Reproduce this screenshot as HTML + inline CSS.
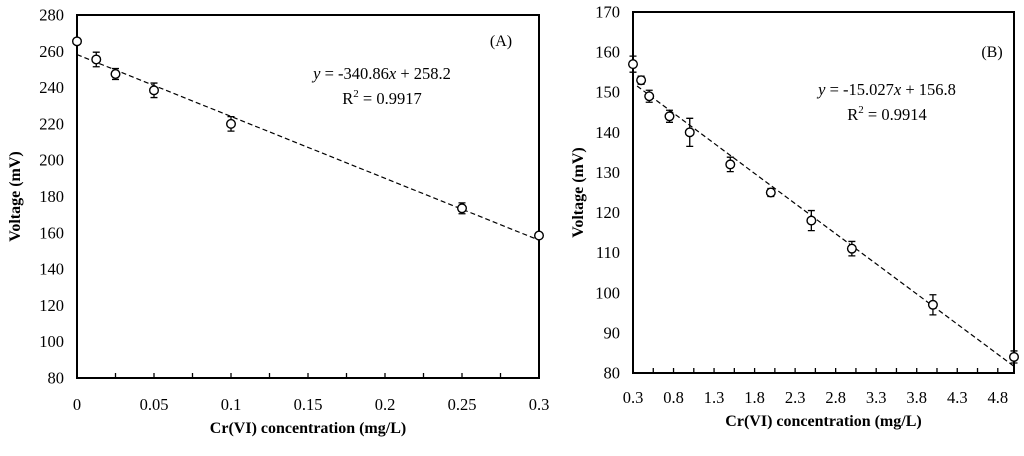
<!DOCTYPE html>
<html><head><meta charset="utf-8"><style>
body{margin:0;background:#fff;width:1024px;height:451px;overflow:hidden}
svg{font-family:"Liberation Serif",serif}
</style></head><body>
<svg id="c" width="1024" height="451"></svg>
<script>
const catsA=[0,0.0125,0.025,0.05,0.1,0.25,0.3];
const valsA=[265.5,255.5,247.5,238.5,220,173.5,158.5];
const errA=[0,4,3,4,4,3,1.5];
const ticksAx=[0,0.05,0.1,0.15,0.2,0.25,0.3];
const tickLabelsAx=["0","0.05","0.1","0.15","0.2","0.25","0.3"];
const ticksAy=[80,100,120,140,160,180,200,220,240,260,280];
const fitA=[-340.86,258.2];

const catsB=[0.3,0.4,0.5,0.75,1.0,1.5,2,2.5,3,4,5];
const valsB=[157,153,149,144,140,132,125,118,111,97,84];
const errB=[2,1,1.5,1.5,3.5,1.8,1,2.5,1.8,2.5,1.5];
const ticksBx=[0.3,0.8,1.3,1.8,2.3,2.8,3.3,3.8,4.3,4.8];
const tickLabelsBx=["0.3","0.8","1.3","1.8","2.3","2.8","3.3","3.8","4.3","4.8"];
const ticksBy=[80,90,100,110,120,130,140,150,160,170];
const fitB=[-15.027,156.8];

const NS="http://www.w3.org/2000/svg";
const svg=document.getElementById('c');
function mk(t,a,p){const e=document.createElementNS(NS,t);for(const k in a)e.setAttribute(k,a[k]);(p||svg).appendChild(e);return e;}

function panel(o){
  const g=mk('g',{});
  
  
  const X=v=>o.L+(v-o.x0)/(o.x1-o.x0)*(o.R-o.L);
  const Y=v=>o.B-(v-o.y0)/(o.y1-o.y0)*(o.B-o.T);
  const box=mk('rect',{x:o.L,y:o.T,width:o.R-o.L,height:o.B-o.T,fill:'none',stroke:'#000','stroke-width':2},g);
  
  
  for(let v=o.x0;v<=o.x1+1e-9;v+=o.minor){
    const t=mk('line',{x1:X(v),x2:X(v),y1:o.B,y2:o.B-5,stroke:'#000','stroke-width':1.3},g);
    
    
  }
  o.xt.forEach((v,i)=>{
    const t=mk('text',{x:X(v),y:o.B+o.xly,'text-anchor':'middle','font-size':16.5},g);
    t.textContent=o.xl[i];
    
    
  });
  o.yt.forEach(v=>{
    const t=mk('text',{x:o.L-13,y:Y(v)+5.5,'text-anchor':'end','font-size':16.5},g);
    t.textContent=v;
    
    
  });
  const xt=mk('text',{x:(o.L+o.R)/2,y:o.B+o.xty,'text-anchor':'middle','font-size':16,'font-weight':'bold'},g);
  xt.textContent='Cr(VI) concentration (mg/L)';
  
  
  const yt=mk('text',{x:0,y:0,'text-anchor':'middle','font-size':16,'font-weight':'bold',transform:`translate(${o.yx},${(o.T+o.B)/2}) rotate(-90)`},g);
  yt.textContent='Voltage (mV)';
  
  
  const fl=mk('line',{x1:X(o.fx0),y1:Y(o.fit[0]*o.fx0+o.fit[1]),x2:X(o.x1),y2:Y(o.fit[0]*o.x1+o.fit[1]),stroke:'#000','stroke-width':1.2,'stroke-dasharray':'5,3'},g);
  
  
  o.cats.forEach((c,i)=>{
    const x=X(c),y=Y(o.vals[i]),e=o.err[i];
    if(e>0){
      const y1=Y(o.vals[i]+e),y2=Y(o.vals[i]-e);
      const eb=mk('path',{d:`M${x},${y1}V${y2}M${x-3.5},${y1}H${x+3.5}M${x-3.5},${y2}H${x+3.5}`,stroke:'#000','stroke-width':1.3,fill:'none'},g);
      
      
    }
    const p=mk('circle',{cx:x,cy:y,r:4.3,fill:'#fff',stroke:'#000','stroke-width':1.4},g);
    
    
  });
  const lab=mk('text',{x:o.lab[0],y:o.lab[1],'font-size':16,'text-anchor':'middle'},g);
  lab.textContent=o.labT;
  
  
  const eq=mk('text',{x:o.eq[0],y:o.eq[1],'font-size':16.5,'text-anchor':'middle'},g);
  eq.innerHTML='<tspan font-style="italic">y</tspan> = '+o.fit[0]+'<tspan font-style="italic">x</tspan> + '+o.fit[1];
  
  
  const r2=mk('text',{x:o.eq[0],y:o.eq[1]+25,'font-size':16.5,'text-anchor':'middle'},g);
  r2.innerHTML='R<tspan dy="-7" font-size="11">2</tspan><tspan dy="7"> = '+o.r2+'</tspan>';
  
  
}
panel({name:'panel-a',L:77,R:539,T:15,B:378,x0:0,x1:0.3,y0:80,y1:280,minor:0.025,xt:ticksAx,xl:tickLabelsAx,yt:ticksAy,yx:20,xly:32,xty:55,cats:catsA,vals:valsA,err:errA,fit:fitA,fx0:0,lab:[501,46],labT:'(A)',eq:[382,79],r2:'0.9917'});
panel({name:'panel-b',L:633,R:1014,T:12,B:373,x0:0.3,x1:5.0,y0:80,y1:170,minor:0.25,xt:ticksBx,xl:tickLabelsBx,yt:ticksBy,yx:583,xly:30,xty:53,cats:catsB,vals:valsB,err:errB,fit:fitB,fx0:0.35,lab:[992,57],labT:'(B)',eq:[887,95],r2:'0.9914'});
</script>
</body></html>
